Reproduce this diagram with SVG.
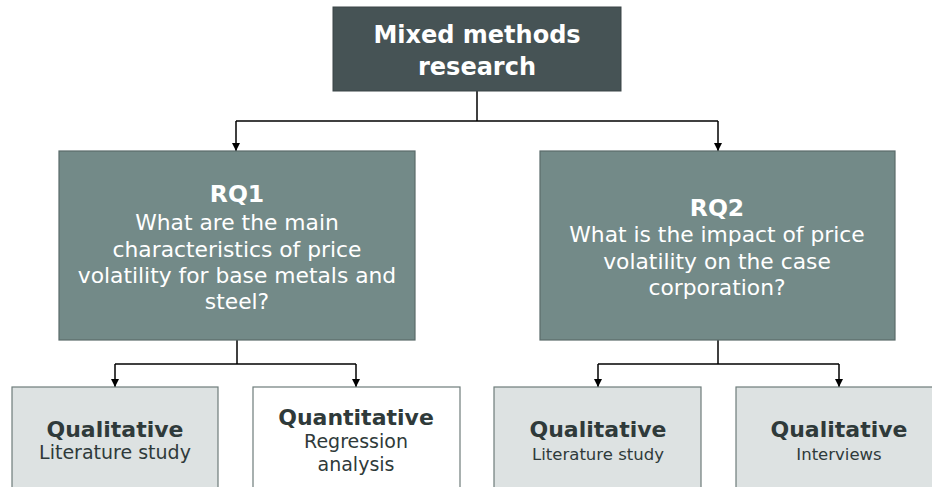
<svg xmlns="http://www.w3.org/2000/svg" width="932" height="487" viewBox="0 0 932 487">
  <style>
    text { font-family: "DejaVu Sans", Verdana, sans-serif; text-anchor: middle; }
    .root { fill: #465355; stroke: #3a4547; stroke-width: 1; }
    .rq { fill: #738a88; stroke: #5a6b6a; stroke-width: 1.2; }
    .method { fill: #dde2e2; stroke: #6e7c7b; stroke-width: 1.2; }
    .method-white { fill: #ffffff; stroke: #6e7c7b; stroke-width: 1.2; }
    .light { fill: #ffffff; }
    .dark { fill: #2f3a3a; }
    .bold { font-weight: bold; }
    .edge { fill: none; stroke: #000000; stroke-width: 1.5; }
  </style>
  <defs>
    <marker id="arrow" viewBox="0 0 10 10" refX="10" refY="5" markerWidth="8" markerHeight="8" markerUnits="userSpaceOnUse" orient="auto">
      <path d="M0,0 L10,5 L0,10 z" fill="#000000"/>
    </marker>
  </defs>

  <rect width="932" height="487" fill="#ffffff"/>

  <g id="connectors">
    <path class="edge" d="M477,91 V121"/>
    <path class="edge" d="M236,121 H718"/>
    <path class="edge" d="M236,121 V151" marker-end="url(#arrow)"/>
    <path class="edge" d="M718,121 V151" marker-end="url(#arrow)"/>
    <path class="edge" d="M237,340 V364"/>
    <path class="edge" d="M115,364 H356"/>
    <path class="edge" d="M115,364 V387" marker-end="url(#arrow)"/>
    <path class="edge" d="M356,364 V387" marker-end="url(#arrow)"/>
    <path class="edge" d="M718,340 V364"/>
    <path class="edge" d="M598,364 H839"/>
    <path class="edge" d="M598,364 V387" marker-end="url(#arrow)"/>
    <path class="edge" d="M839,364 V387" marker-end="url(#arrow)"/>
  </g>

  <g id="mixed-methods">
    <rect class="root" x="333" y="7" width="288" height="84"/>
    <text class="light bold" x="477" y="43" font-size="24">Mixed methods</text>
    <text class="light bold" x="477" y="75" font-size="24">research</text>
  </g>

  <g id="rq1">
    <rect class="rq" x="59" y="151" width="356" height="189"/>
    <text class="light bold" x="237" y="202" font-size="23.5">RQ1</text>
    <text class="light" x="237" y="230" font-size="21.8">What are the main</text>
    <text class="light" x="237" y="257" font-size="21.8">characteristics of price</text>
    <text class="light" x="237" y="283" font-size="21.8">volatility for base metals and</text>
    <text class="light" x="237" y="309" font-size="21.8">steel?</text>
  </g>

  <g id="rq2">
    <rect class="rq" x="540" y="151" width="355" height="189"/>
    <text class="light bold" x="717" y="216" font-size="23.5">RQ2</text>
    <text class="light" x="717" y="242" font-size="21.8">What is the impact of price</text>
    <text class="light" x="717" y="269" font-size="21.8">volatility on the case</text>
    <text class="light" x="717" y="295" font-size="21.8">corporation?</text>
  </g>

  <g id="rq1-qualitative">
    <rect class="method" x="12" y="387" width="206" height="120"/>
    <text class="dark bold" x="115" y="437" font-size="22">Qualitative</text>
    <text class="dark" x="115" y="459" font-size="19">Literature study</text>
  </g>

  <g id="rq1-quantitative">
    <rect class="method-white" x="253" y="387" width="207" height="120"/>
    <text class="dark bold" x="356" y="425" font-size="22">Quantitative</text>
    <text class="dark" x="356" y="448" font-size="19">Regression</text>
    <text class="dark" x="356" y="471" font-size="19">analysis</text>
  </g>

  <g id="rq2-qualitative-literature">
    <rect class="method" x="494" y="387" width="207" height="120"/>
    <text class="dark bold" x="598" y="437" font-size="22">Qualitative</text>
    <text class="dark" x="598" y="460" font-size="16.5">Literature study</text>
  </g>

  <g id="rq2-qualitative-interviews">
    <rect class="method" x="736" y="387" width="207" height="120"/>
    <text class="dark bold" x="839" y="437" font-size="22">Qualitative</text>
    <text class="dark" x="839" y="460" font-size="16.5">Interviews</text>
  </g>
</svg>
